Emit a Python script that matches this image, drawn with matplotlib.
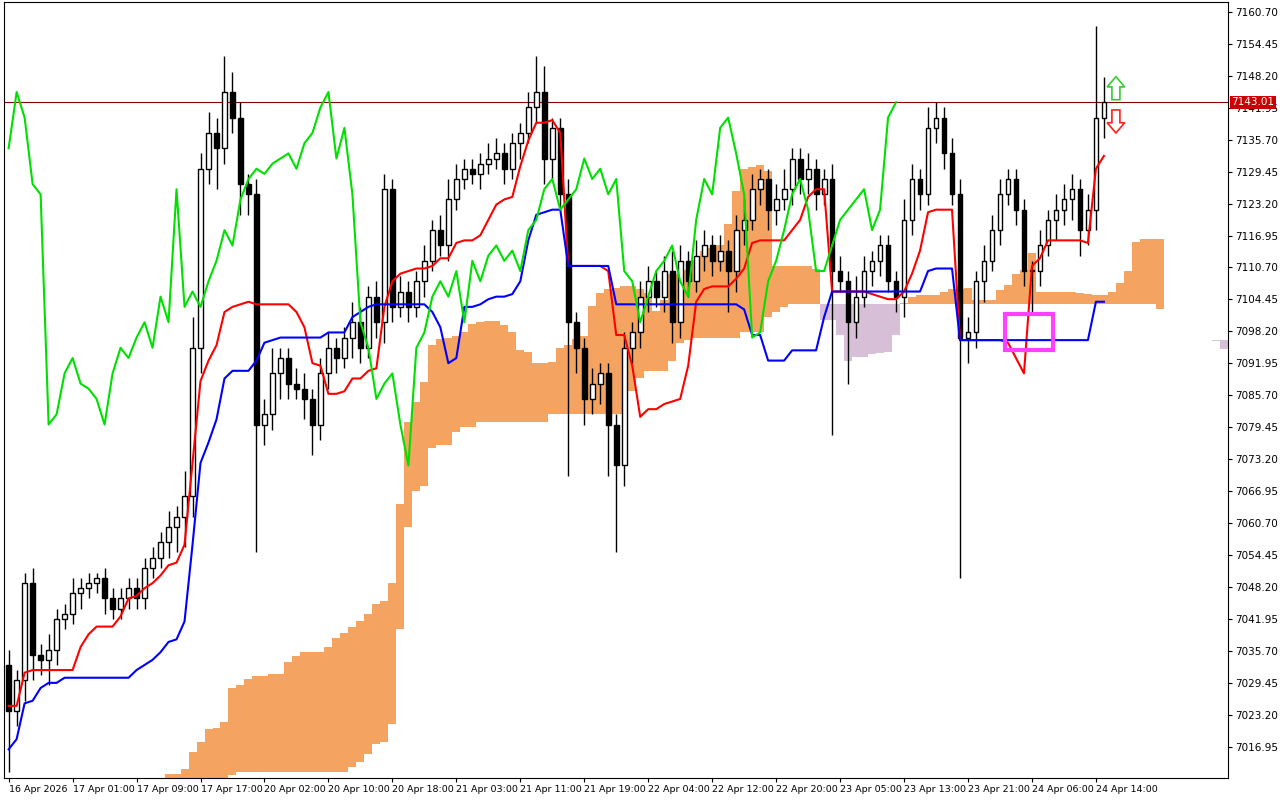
import matplotlib.pyplot as plt
import numpy as np
import pandas as pd
from matplotlib.patches import Rectangle, FancyArrow

# bars before the visible window (only feed the Ichimoku lines)
history_closes = [
    6975, 6982, 6990, 6996, 6998, 7002, 7006, 7003, 7008, 7012,
    7010, 7014, 7018, 7016, 7020, 7024, 7021, 7019, 7015, 7012,
    7016, 7020, 7024, 7027, 7030, 7028, 7032, 7035, 7031, 7033,
]
# closes, one per visible bar (bar spacing ~8 px)
closes = [
    7024, 7030, 7049, 7035, 7034, 7036, 7042, 7043,
    7047, 7048, 7049, 7050, 7046, 7044, 7046, 7048,
    7046, 7052, 7054, 7057, 7060, 7062, 7066, 7095,
    7130, 7137, 7134, 7145, 7140, 7127, 7125, 7080,
    7082, 7090, 7093, 7088, 7087, 7085, 7080, 7090,
    7095, 7093, 7097, 7100, 7095, 7105, 7100, 7126,
    7103, 7106, 7103, 7108, 7112, 7118, 7115, 7124,
    7128, 7130, 7129, 7131, 7132, 7133, 7130, 7135,
    7137, 7142, 7145, 7132, 7138, 7125, 7100, 7095,
    7085, 7088, 7090, 7080, 7072, 7095, 7098, 7105,
    7108, 7105, 7110, 7100, 7112, 7108, 7113, 7115,
    7112, 7114, 7110, 7118, 7120, 7126, 7128, 7122,
    7124, 7126, 7132, 7128, 7130, 7125, 7128, 7110,
    7108, 7100, 7105, 7110, 7112, 7115, 7108, 7105,
    7120, 7128, 7125, 7138, 7140, 7133, 7125, 7097,
    7098, 7108, 7112, 7118, 7125, 7128, 7122, 7110,
    7110, 7115, 7120, 7122, 7124, 7126, 7118, 7122,
    7140, 7143,
]
# wick lengths above / below the body
wick_up = [
    3, 2, 2, 3, 2, 3, 2, 2,
    3, 2, 2, 1, 2, 2, 2, 2,
    2, 2, 2, 2, 3, 2, 5, 6,
    3, 4, 3, 7, 4, 3, 2, 3,
    3, 5, 2, 2, 3, 3, 2, 3,
    3, 2, 2, 4, 3, 2, 3, 3,
    2, 3, 2, 2, 3, 2, 3, 4,
    3, 2, 2, 2, 3, 3, 2, 2,
    2, 3, 7, 5, 2, 2, 3, 2,
    2, 3, 2, 2, 2, 3, 2, 3,
    3, 2, 3, 4, 3, 2, 3, 3,
    2, 3, 2, 3, 4, 3, 2, 2,
    3, 4, 2, 2, 3, 2, 2, 3,
    3, 2, 4, 3, 2, 2, 2, 2,
    4, 3, 2, 4, 3, 2, 3, 3,
    3, 2, 3, 3, 3, 2, 2, 2,
    2, 3, 2, 3, 3, 3, 2, 3,
    18, 5,
]
wick_dn = [
    12, 3, 4, 5, 3, 5, 3, 2,
    2, 3, 2, 2, 3, 2, 2, 2,
    2, 2, 2, 2, 3, 5, 6, 4,
    5, 3, 8, 3, 3, 6, 4, 25,
    4, 3, 5, 3, 2, 4, 6, 3,
    3, 3, 2, 4, 3, 2, 3, 4,
    3, 2, 3, 2, 3, 2, 2, 3,
    2, 2, 2, 3, 2, 2, 3, 2,
    3, 2, 3, 5, 4, 3, 30, 5,
    5, 3, 4, 10, 17, 4, 3, 3,
    3, 2, 3, 4, 3, 3, 2, 3,
    3, 2, 8, 4, 3, 2, 3, 4,
    3, 2, 3, 3, 3, 3, 2, 32,
    2, 12, 3, 2, 3, 3, 2, 3,
    4, 3, 3, 2, 3, 3, 2, 47,
    5, 3, 4, 2, 3, 2, 3, 3,
    8, 3, 2, 4, 3, 4, 5, 3,
    4, 4,
]
tick_labels = ['16 Apr 2026', '17 Apr 01:00', '17 Apr 09:00', '17 Apr 17:00', '20 Apr 02:00',
               '20 Apr 10:00', '20 Apr 18:00', '21 Apr 03:00', '21 Apr 11:00', '21 Apr 19:00',
               '22 Apr 04:00', '22 Apr 12:00', '22 Apr 20:00', '23 Apr 05:00', '23 Apr 13:00',
               '23 Apr 21:00', '24 Apr 06:00', '24 Apr 14:00']
last_price = 7143.01

allc = np.array(history_closes + closes, float)
allo = np.concatenate([[allc[0]], allc[:-1]])
hw = np.concatenate([np.full(len(history_closes), 3.0), wick_up])
lw_ = np.concatenate([np.full(len(history_closes), 3.0), wick_dn])
allh = np.maximum(allo, allc) + hw
alll = np.minimum(allo, allc) - lw_
k = len(history_closes)
idx = np.arange(len(allc)) - k   # visible bars start at 0

hs, ls = pd.Series(allh), pd.Series(alll)
tenkan = ((hs.rolling(9, min_periods=1).max() + ls.rolling(9, min_periods=1).min()) / 2).values
kijun = ((hs.rolling(26, min_periods=1).max() + ls.rolling(26, min_periods=1).min()) / 2).values
spanb = ((hs.rolling(52, min_periods=1).max() + ls.rolling(52, min_periods=1).min()) / 2).values
spana = (tenkan + kijun) / 2
shift = 26
cx = idx + shift

fig = plt.figure(figsize=(12.8, 8), dpi=100)
ax = fig.add_axes([0.003, 22 / 800, 1224 / 1280, 776 / 800])

# cloud as columns (MT4 style histogram)
lo_c, hi_c = np.minimum(spana, spanb), np.maximum(spana, spanb)
cols = np.where(spana >= spanb, '#F4A460', '#D8BFD8')
ax.bar(cx, hi_c - lo_c, bottom=lo_c, width=1.0, color=cols, lw=0, zorder=1)

# candles
c, o, h, l = allc[k:], allo[k:], allh[k:], alll[k:]
n = len(c)
for i in range(n):
    ax.vlines(i, l[i], h[i], color='black', lw=1, zorder=3)
    bull = c[i] >= o[i]
    lo, hi = min(o[i], c[i]), max(o[i], c[i])
    ax.add_patch(Rectangle((i - 0.3, lo), 0.6, max(hi - lo, 0.3),
                           facecolor='white' if bull else 'black', edgecolor='black', lw=1, zorder=4))

x = np.arange(n)
ax.plot(x, tenkan[k:], color='#FF0000', lw=1.5, zorder=5)
ax.plot(x, kijun[k:], color='#0000FF', lw=1.5, zorder=5)
ax.plot(x[:-shift], c[shift:], color='#00E000', lw=1.5, zorder=5)

ax.axhline(last_price, color='#8B0000', lw=0.8, zorder=2)

# selection box and signal arrows
ax.add_patch(Rectangle((124.6, 7094.5), 6, 7.2, fill=False, edgecolor='#FF40FF', lw=3, zorder=6))
ax.add_patch(FancyArrow(138.5, 7143.5, 0, 4.5, width=1.0, head_width=2.2, head_length=2.0,
                        length_includes_head=True, facecolor='white', edgecolor='#33CC33', lw=1.2, zorder=6))
ax.add_patch(FancyArrow(138.5, 7141.5, 0, -4.5, width=1.0, head_width=2.2, head_length=2.0,
                        length_includes_head=True, facecolor='white', edgecolor='#FF2020', lw=1.2, zorder=6))

ax.set_xlim(-0.6, 152.5)
ax.set_ylim(7010.9, 7162.6)
ax.yaxis.tick_right()
yt = np.arange(7016.95, 7161, 6.25)
ax.set_yticks(yt)
ax.set_yticklabels([f'{v:.2f}' for v in yt], fontsize=7.5)
ax.set_xticks(np.arange(0, n, 8))
ax.set_xticklabels(tick_labels, fontsize=6.8, ha='left')
ax.tick_params(length=3, direction='out', pad=2)
ax.text(1.003, last_price, f'{last_price:.2f}', transform=ax.get_yaxis_transform(), fontsize=7.5,
        color='white', va='center', ha='left',
        bbox=dict(boxstyle='square,pad=0.15', facecolor='#CC0000', edgecolor='none'))
for s in ax.spines.values():
    s.set_color('black')
    s.set_linewidth(0.8)

fig.savefig('out.png', dpi=100)
